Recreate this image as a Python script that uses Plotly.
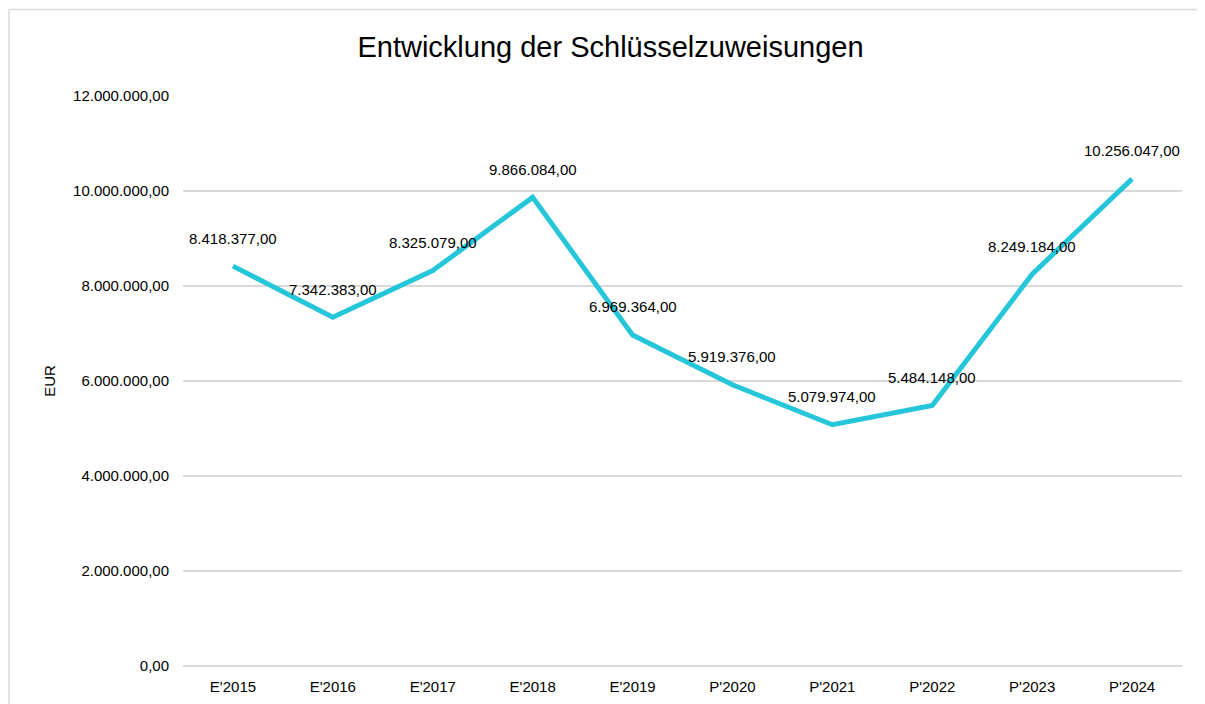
import plotly.graph_objects as go

# data
jahre = ["E'2015", "E'2016", "E'2017", "E'2018", "E'2019",
         "P'2020", "P'2021", "P'2022", "P'2023", "P'2024"]
zuweisungen = [8418377, 7342383, 8325079, 9866084, 6969364,
               5919376, 5079974, 5484148, 8249184, 10256047]
y_ticks = [0, 2000000, 4000000, 6000000, 8000000, 10000000, 12000000]


def de_format(v):
    s = f"{v:,.2f}"
    return s.replace(",", "X").replace(".", ",").replace("X", ".")


FONT = "Liberation Sans, Arial, sans-serif"
W, H = 1205, 704
L, R, T, B = 175, 31, 88, 46

fig = go.Figure()
fig.add_trace(go.Scatter(
    x=jahre, y=zuweisungen, mode="lines",
    line=dict(color="#26C6DA", width=5),
    hoverinfo="skip", showlegend=False,
))

for x, y in zip(jahre, zuweisungen):
    fig.add_annotation(x=x, y=y, text=de_format(y), showarrow=False,
                       yshift=28, font=dict(family=FONT, size=15, color="#000000"))

# light frame like the spreadsheet chart area
pw = W - L - R
ph = H - T - B
fig.add_shape(type="line", xref="paper", yref="paper",
              x0=(1 - L) / pw, x1=(W - L) / pw,
              y0=1 + (T - 1.5) / ph, y1=1 + (T - 1.5) / ph,
              line=dict(color="#D9D9D9", width=1.5))
fig.add_shape(type="line", xref="paper", yref="paper",
              x0=(1 - L) / pw, x1=(1 - L) / pw,
              y0=1 + (T - 1.5) / ph, y1=-B / ph - 0.01,
              line=dict(color="#D9D9D9", width=1.5))

fig.update_layout(
    width=W, height=H,
    margin=dict(l=L, r=R, t=T, b=B),
    plot_bgcolor="white", paper_bgcolor="white",
    font=dict(family=FONT, size=15, color="#000000"),
    title=dict(text="Entwicklung der Schlüsselzuweisungen", x=0.5, xanchor="center",
               y=1 - 39 / H, yanchor="middle",
               font=dict(family=FONT, size=29, color="#000000")),
)
fig.update_xaxes(showgrid=False, showline=False, tickfont=dict(size=15),
                 ticks="outside", ticklen=7, tickcolor="rgba(0,0,0,0)",
                 range=[-0.5, len(jahre) - 0.5])
fig.update_yaxes(range=[0, 12000000], tickvals=y_ticks,
                 ticktext=[de_format(v) for v in y_ticks],
                 showgrid=True, gridcolor="#D9D9D9", gridwidth=1.5,
                 zeroline=True, zerolinecolor="#D9D9D9", zerolinewidth=1.5,
                 ticks="outside", ticklen=10, tickcolor="rgba(0,0,0,0)",
                 title=dict(text="EUR", font=dict(size=15), standoff=13),
                 tickfont=dict(size=15))

fig.write_html("out.html")
